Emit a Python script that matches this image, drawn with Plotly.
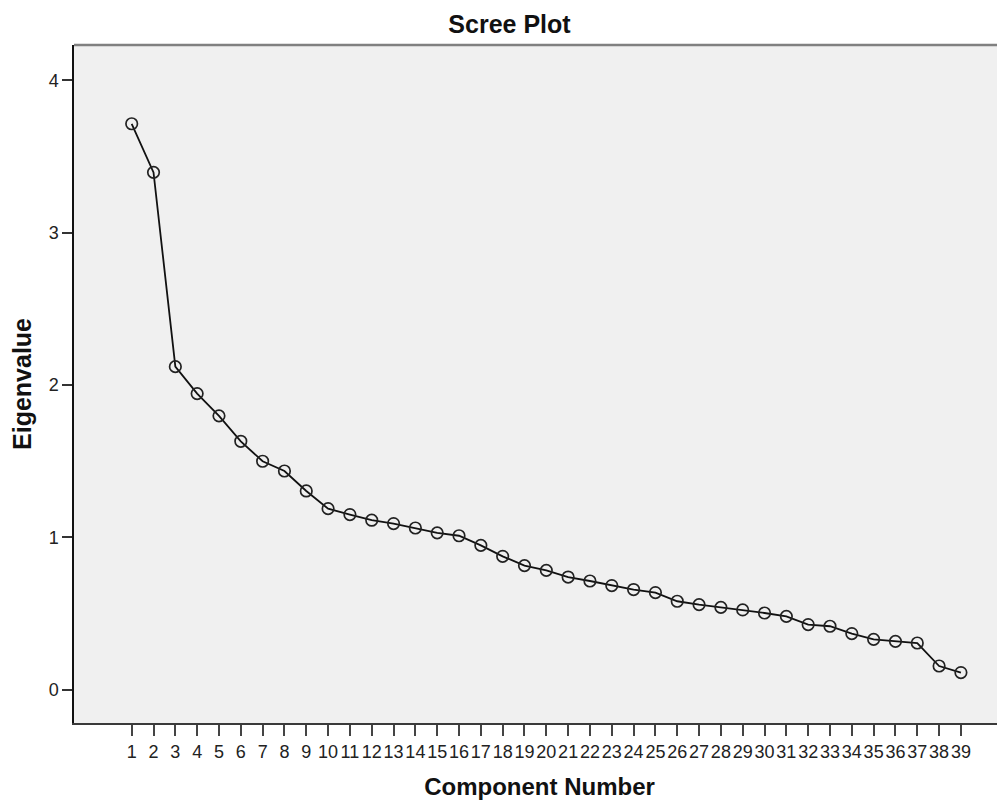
import plotly.graph_objects as go

components = list(range(1, 40))
eigenvalues = [3.714, 3.395, 2.120, 1.943, 1.797, 1.630, 1.499, 1.435, 1.304, 1.188,
               1.149, 1.112, 1.090, 1.061, 1.029, 1.010, 0.947, 0.875, 0.814, 0.783,
               0.739, 0.713, 0.683, 0.657, 0.637, 0.580, 0.558, 0.540, 0.523, 0.503,
               0.481, 0.427, 0.416, 0.368, 0.330, 0.317, 0.306, 0.155, 0.112]
y_ticks = [0, 1, 2, 3, 4]

FONT = "Liberation Sans, Arial, sans-serif"

fig = go.Figure()
fig.add_trace(go.Scatter(
    x=components, y=eigenvalues, mode="lines+markers",
    line=dict(color="#111111", width=1.8),
    marker=dict(symbol="circle-open", size=11.5, color="#222222", line=dict(width=1.7)),
    hoverinfo="x+y", showlegend=False,
))

# page has an 8px body margin; figure sized so the plot area reaches the right edge
fig.update_layout(
    width=997, height=792,
    margin=dict(l=66, r=0, t=37, b=77),
    paper_bgcolor="white", plot_bgcolor="#F0F0F0",
    font=dict(family=FONT, color="#222222", size=18),
    title=dict(text="<b>Scree Plot</b>", x=0.503, xanchor="center",
               y=0.98, yanchor="middle", font=dict(size=25, color="#111111")),
    xaxis=dict(
        range=[-1.644, 41.02], tickmode="array", tickvals=components,
        ticktext=[str(c) for c in components],
        showgrid=False, zeroline=False, showline=True, linecolor="#3a3a3a", linewidth=2,
        ticks="outside", ticklen=11, tickwidth=2, tickcolor="#444444",
        tickfont=dict(size=18, color="#222222"), tickangle=0,
        title=dict(text="<b>Component Number</b>", font=dict(size=24, color="#111111"), standoff=18),
        automargin=False, fixedrange=True,
    ),
    yaxis=dict(
        range=[-0.219, 4.231], tickmode="array", tickvals=y_ticks,
        showgrid=False, zeroline=False, showline=True, linecolor="#111111", linewidth=1.5,
        ticks="outside", ticklen=10, tickwidth=1.5, tickcolor="#333333",
        tickfont=dict(size=18, color="#222222"),
        title=dict(text="<b>Eigenvalue</b>", font=dict(size=25, color="#111111"), standoff=16),
        automargin=False, fixedrange=True,
    ),
    shapes=[dict(type="line", xref="paper", yref="paper", x0=0, x1=1, y0=1, y1=1,
                 line=dict(color="#808080", width=2.5))],
)

fig.write_html("out.html")
